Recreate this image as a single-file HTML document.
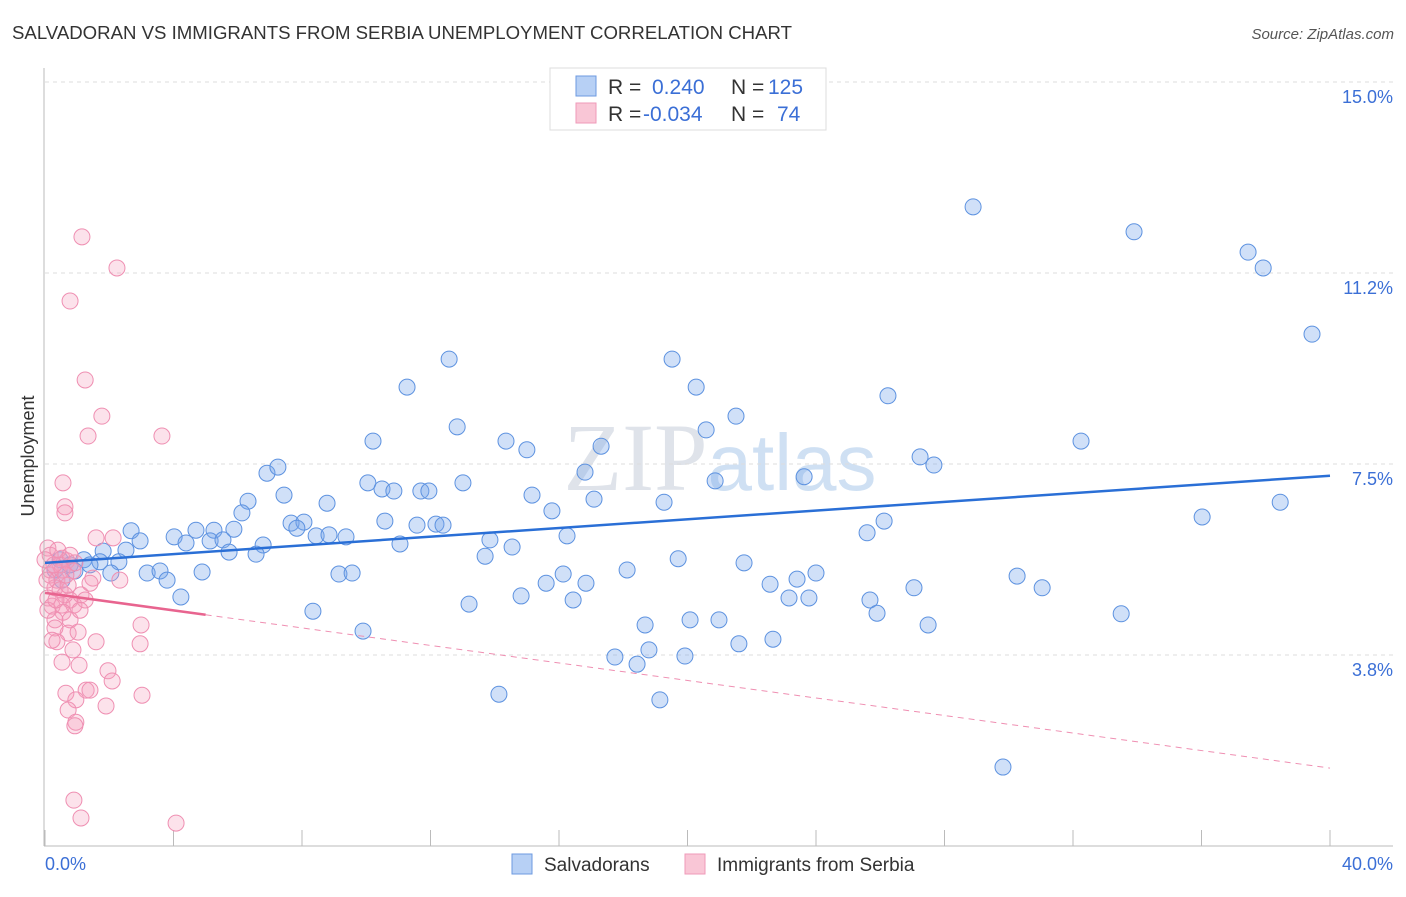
<!DOCTYPE html>
<html><head><meta charset="utf-8"><style>
body{margin:0;background:#fff;font-family:"Liberation Sans",sans-serif}
</style></head><body>
<svg id="c" width="1406" height="892" xmlns="http://www.w3.org/2000/svg">
<text x="12" y="39" font-size="18" fill="#333" textLength="780" lengthAdjust="spacingAndGlyphs">SALVADORAN VS IMMIGRANTS FROM SERBIA UNEMPLOYMENT CORRELATION CHART</text>
<text x="1394" y="39" font-size="15" fill="#555" font-style="italic" text-anchor="end">Source: ZipAtlas.com</text>
<text x="720" y="490" font-size="96" fill="#dfe3ea" text-anchor="middle" font-family="Liberation Serif,serif">ZIP<tspan fill="#cfe0f3" font-family="Liberation Sans,sans-serif" font-size="80">atlas</tspan></text>
<text transform="translate(34,456) rotate(-90)" font-size="18" fill="#333" text-anchor="middle">Unemployment</text>
<g id="grid"></g><g id="ticks"></g><g id="marks"></g>
<line x1="44" y1="68" x2="44" y2="846" stroke="#bbb"/>
<line x1="44" y1="846" x2="1393" y2="846" stroke="#bbb"/>
<text x="45" y="870" font-size="18" fill="#3b6fd6">0.0%</text>
<text x="1393" y="870" font-size="18" fill="#3b6fd6" text-anchor="end">40.0%</text>
<g>
<rect x="550" y="68" width="276" height="62" fill="#fff" stroke="#ddd"/>
<rect x="576" y="76" width="20" height="20" fill="#b7d0f5" stroke="#6c9ae0"/>
<rect x="576" y="103" width="20" height="20" fill="#f9c6d6" stroke="#ef9ab8"/>
<text x="608" y="94" font-size="21" fill="#333">R = <tspan fill="#3b6fd6" x="652">0.240</tspan><tspan x="731" fill="#333">N = </tspan><tspan fill="#3b6fd6" x="768">125</tspan></text>
<text x="608" y="121" font-size="21" fill="#333">R = <tspan fill="#3b6fd6" x="643">-0.034</tspan><tspan x="731" fill="#333">N = </tspan><tspan fill="#3b6fd6" x="777">74</tspan></text>
</g>
<g>
<rect x="512" y="854" width="20" height="20" fill="#b7d0f5" stroke="#6c9ae0"/>
<text x="544" y="871" font-size="19" fill="#333">Salvadorans</text>
<rect x="685" y="854" width="20" height="20" fill="#f9c6d6" stroke="#ef9ab8"/>
<text x="717" y="871" font-size="19" fill="#333">Immigrants from Serbia</text>
</g>
</svg>
<script>
const yTicks=[15,11.25,7.5,3.75];
const yTickLabels=["15.0%","11.2%","7.5%","3.8%"];
const xTicks=[0,4,8,12,16,20,24,28,32,36,40];
const blueX=[28.89,33.90,37.45,37.92,39.44,12.58,19.52,11.27,20.27,26.24,21.51,12.83,20.58,10.21,14.35,32.25,15.00,17.31,27.24,27.67,6.91,7.25,16.81,20.86,23.63,10.05,13.01,10.49,10.86,11.70,11.95,15.16,7.44,6.32,8.78,17.09,19.27,38.45,6.13,15.78,10.58,7.66,8.06,11.58,12.17,12.39,36.02,26.12,2.68,4.70,5.26,5.88,7.84,4.02,8.44,8.84,9.37,2.96,4.39,5.14,5.54,6.79,11.05,13.85,16.25,25.59,1.81,2.52,5.73,6.57,13.70,14.54,19.71,21.76,1.21,1.71,2.30,3.18,3.58,3.80,4.89,9.15,9.56,15.60,16.13,16.84,18.12,22.57,23.41,24.00,30.26,31.04,27.05,2.05,4.23,14.82,16.44,23.16,23.78,25.68,13.20,8.34,25.90,33.50,18.68,20.08,20.98,9.90,27.49,18.80,21.60,22.66,17.74,18.43,19.92,14.13,19.14,29.82,0.47,0.78,0.31,0.93,0.53,1.40];
const blueY=[12.55,12.06,11.66,11.35,10.05,9.56,9.56,9.01,9.01,8.84,8.44,8.23,8.17,7.95,7.95,7.95,7.78,7.85,7.64,7.48,7.32,7.44,7.34,7.17,7.25,7.13,7.13,7.01,6.97,6.97,6.97,6.89,6.89,6.77,6.73,6.81,6.75,6.75,6.54,6.58,6.38,6.34,6.36,6.30,6.32,6.30,6.46,6.38,6.19,6.20,6.20,6.22,6.24,6.07,6.09,6.11,6.07,5.99,5.95,5.99,6.01,5.91,5.93,6.01,6.09,6.15,5.79,5.81,5.77,5.73,5.69,5.87,5.64,5.56,5.62,5.58,5.58,5.36,5.40,5.22,5.38,5.34,5.36,5.16,5.34,5.16,5.42,5.14,5.24,5.36,5.30,5.07,5.07,5.36,4.89,4.91,4.83,4.87,4.87,4.83,4.75,4.61,4.57,4.56,4.34,4.44,4.44,4.22,4.34,3.85,3.97,4.06,3.71,3.57,3.73,2.98,2.87,1.55,5.62,5.52,5.42,5.40,5.22,5.52];
const pinkX=[1.15,2.24,0.78,1.25,1.77,1.34,3.64,0.56,0.62,0.62,1.59,2.12,0.09,0.53,0.68,0.47,0.87,0.16,1.49,0.31,0.09,0.22,0.53,0.78,0.90,1.12,0.56,0.78,0.31,0.72,1.03,0.37,1.59,2.99,2.96,0.87,0.53,1.06,1.96,2.09,1.28,0.65,1.40,0.96,3.02,1.90,0.72,0.96,0.93,0.90,1.12,4.08,0.16,0.16,0.37,0.47,0.62,1.25,0,0.40,0.78,0.09,0.31,0.22,1.40,2.33,0.93,0.53,0.72,1.09,0.34,0.65,0.28,0.06];
const pinkY=[11.96,11.35,10.70,9.15,8.44,8.05,8.05,7.13,6.66,6.54,6.05,6.05,5.85,5.65,5.60,5.52,5.40,5.32,5.26,5.07,4.87,4.71,4.73,4.83,4.73,4.93,4.59,4.44,4.44,4.18,4.20,4.01,4.01,4.34,3.97,3.85,3.61,3.55,3.44,3.24,3.06,3.00,3.06,2.87,2.96,2.75,2.67,2.43,2.36,0.90,0.55,0.45,5.71,5.42,5.22,5.03,4.93,4.83,5.62,5.81,5.71,4.63,4.28,4.04,5.16,5.22,5.56,5.42,5.12,4.63,4.83,5.32,5.52,5.22];
const blueTrend=[5.56,7.27];
const pinkTrend=[4.97,1.53];
const pinkSolidEnd=[5.0];
const NS="http://www.w3.org/2000/svg";
const X=v=>45+v*32.125, Y=v=>846-v*50.93;
function mk(t,a,p){const e=document.createElementNS(NS,t);for(const k in a)e.setAttribute(k,a[k]);document.getElementById(p).appendChild(e);return e;}
yTicks.forEach((t,i)=>{
 const l=mk('line',{x1:45,x2:1393,y1:Y(t),y2:Y(t),stroke:'#ddd','stroke-dasharray':'4,4'},'grid');
 
 
 const tx=mk('text',{x:1393,y:Y(t)+21,'font-size':18,fill:'#3b6fd6','text-anchor':'end'},'ticks');
 tx.textContent=yTickLabels[i];
 
 
});
xTicks.forEach(t=>{
 const l=mk('line',{x1:X(t),x2:X(t),y1:830,y2:846,stroke:'#bbb'},'ticks');
 
 
});
blueX.forEach((x,i)=>{
 const c=mk('circle',{cx:X(x),cy:Y(blueY[i]),r:8,fill:'rgba(120,165,235,0.35)',stroke:'#5d92e0','stroke-width':1},'marks');
 
 
});
pinkX.forEach((x,i)=>{
 const c=mk('circle',{cx:X(x),cy:Y(pinkY[i]),r:8,fill:'rgba(245,160,190,0.3)',stroke:'#ef8fb2','stroke-width':1},'marks');
 
 
});
const bl=mk('line',{x1:X(0),y1:Y(blueTrend[0]),x2:X(40),y2:Y(blueTrend[1]),stroke:'#2a6fd6','stroke-width':2.5},'marks');


const pv=x=>pinkTrend[0]+(pinkTrend[1]-pinkTrend[0])*x/40;
const pl=mk('line',{x1:X(0),y1:Y(pv(0)),x2:X(pinkSolidEnd[0]),y2:Y(pv(pinkSolidEnd[0])),stroke:'#e8648f','stroke-width':2.5},'marks');


const pd=mk('line',{x1:X(pinkSolidEnd[0]),y1:Y(pv(pinkSolidEnd[0])),x2:X(40),y2:Y(pv(40)),stroke:'#ef8fb2','stroke-width':1,'stroke-dasharray':'6,5'},'marks');


</script>
</body></html>
